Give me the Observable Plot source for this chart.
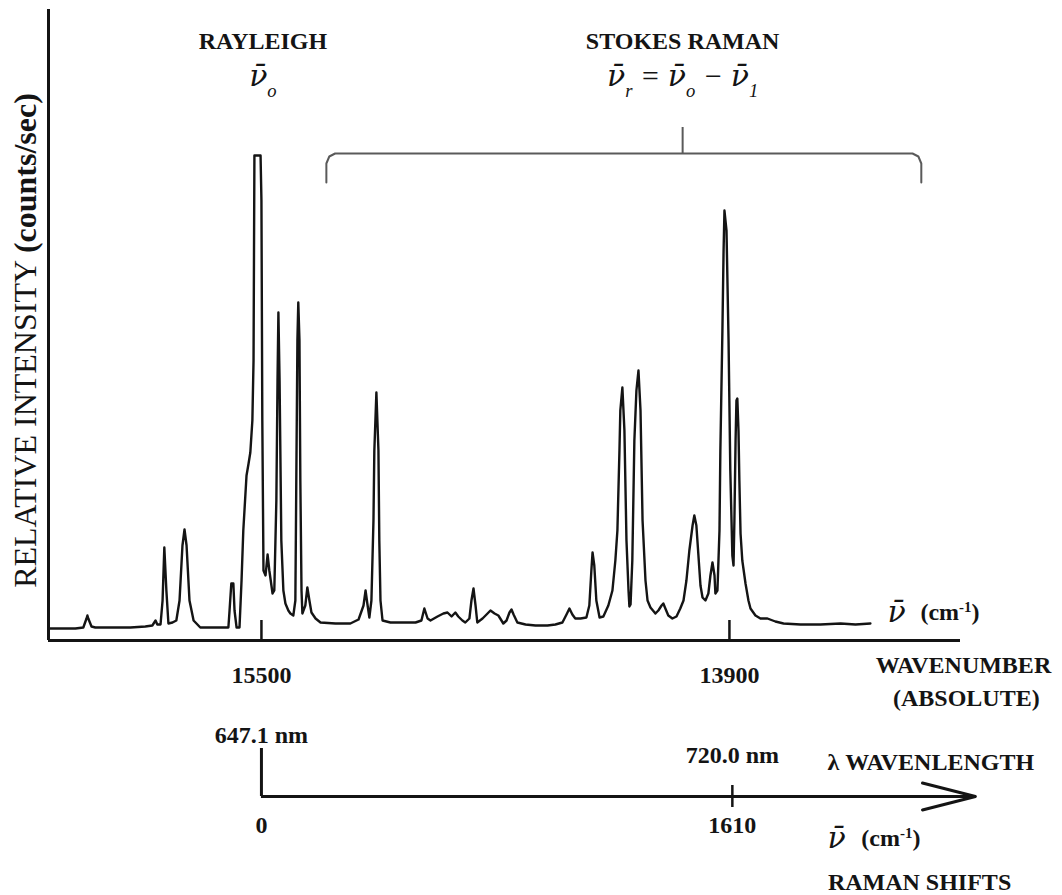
<!DOCTYPE html>
<html>
<head>
<meta charset="utf-8">
<script src="https://cdn.jsdelivr.net/npm/d3@7"></script>
<script src="https://cdn.jsdelivr.net/npm/@observablehq/plot@0.6"></script>
<style>
  html, body { margin: 0; padding: 0; background: #fff; overflow: hidden; }
  #chart svg { display: block; }
</style>
</head>
<body>
<div id="chart"></div>
<script>
// ---- Spectrum: absolute wavenumber (cm-1) and relative intensity (counts/sec)
const wavenumber = [
  16228,16187,16136,16109,16098,16095,16092,16081,16068,16016,
  15948,15897,15873,15862,15856,15845,15838,15832,15825,15818,
  15804,15791,15780,15770,15763,15756,15746,15732,15709,15657,
  15613,15609,15603,15596,15592,15585,15575,15568,15562,15551,
  15544,15538,15531,15527,15524,15517,15510,15503,15500,15497,
  15493,15486,15479,15473,15462,15456,15449,15445,15442,15438,
  15432,15425,15418,15408,15401,15391,15384,15380,15377,15374,
  15370,15367,15363,15360,15350,15343,15336,15329,15315,15298,
  15247,15196,15168,15151,15144,15138,15131,15124,15117,15114,
  15107,15100,15097,15093,15086,15059,15025,14973,14953,14943,
  14932,14922,14898,14878,14864,14850,14837,14827,14813,14803,
  14789,14782,14775,14768,14762,14744,14727,14717,14703,14690,
  14673,14662,14652,14645,14638,14625,14597,14563,14522,14495,
  14471,14457,14447,14437,14427,14409,14389,14379,14372,14368,
  14362,14355,14344,14331,14314,14300,14290,14283,14276,14273,
  14266,14259,14252,14245,14242,14238,14232,14225,14218,14211,
  14204,14197,14187,14180,14170,14153,14143,14132,14126,14119,
  14109,14095,14081,14068,14057,14047,14037,14026,14020,14013,
  14006,13999,13992,13982,13972,13965,13958,13951,13948,13941,
  13934,13931,13924,13920,13917,13910,13903,13897,13890,13886,
  13883,13879,13876,13873,13869,13866,13862,13856,13845,13835,
  13828,13811,13794,13770,13743,13715,13657,13589,13520,13469,13418
];
const intensity = [
  120,120,120,130,220,250,220,140,130,130,
  130,140,150,200,160,160,400,930,500,170,
  180,200,400,950,1110,950,400,200,130,130,
  130,300,570,570,300,130,130,600,1100,1650,
  1770,1880,2200,2800,4850,4850,4850,4850,4400,2200,
  700,650,860,700,470,500,1400,2600,3280,2600,
  1000,500,370,300,270,250,400,1900,3000,3380,
  3000,1600,500,270,350,530,400,280,220,180,
  170,170,210,350,500,370,230,400,1200,1900,
  2480,1900,1000,400,200,180,180,180,200,320,
  220,200,240,270,280,240,280,240,200,180,
  220,400,520,350,180,220,270,300,270,250,
  170,200,280,310,260,180,160,150,150,160,
  180,260,320,260,220,220,230,350,700,880,
  750,400,230,240,350,500,800,1100,1900,2300,
  2530,2100,1000,500,340,360,800,2000,2500,2700,
  2300,1200,600,400,330,270,300,350,370,320,
  250,220,240,320,400,600,900,1150,1250,1150,
  850,550,430,400,470,650,780,650,470,500,
  1100,1900,3100,3900,4300,4100,3000,1700,850,750,
  1200,2000,2400,2420,2100,1600,1070,800,570,400,
  320,250,220,220,190,170,160,160,170,160,170
];

// ---- Axes, ticks and labels
const xDomain = [16228, 13110];           // absolute wavenumber shown by the upper axis
const yDomain = [0, 6310];                // relative intensity range
const wavenumberTicks = [15500, 13900];
const laserWavenumber = 15500;            // Rayleigh line = zero Raman shift
const ramanShiftTicks = [0, 1610];
const wavelengthLabels = ["647.1 nm", "720.0 nm"];
const shiftAxisEnd = 2441;                // Raman shift where the lower arrow ends
const arrowWing = 2260;

// ---- Annotations  (_{} subscript, ^{} superscript, *{} bold, !{} barred symbol font)
const regionNames = ["RAYLEIGH", "STOKES RAMAN"];
const regionSymbols = ["!{ν̄}_{o}", "!{ν̄}_{r} = !{ν̄}_{o} − !{ν̄}_{1}"];
const regionCenters = [15495, 14060];
const stokesSpan = [15278, 13244];

const spectrum = wavenumber.map((w, i) => ({w, v: intensity[i]}));
const fromShift = (s) => laserWavenumber - s;

const [b0, b1] = stokesSpan;
const bTop = 4870, bFoot = 4580;
const bracket = [
  [b0, bFoot], [b0, bTop - 100], [b0 - 10, bTop - 30], [b0 - 30, bTop],
  [b1 + 30, bTop], [b1 + 10, bTop - 30], [b1, bTop - 100], [b1, bFoot]
];

const serif = "'Liberation Serif', 'Times New Roman', serif";
const ink = "#141414";

const chart = Plot.plot({
  width: 1062,
  height: 895,
  marginLeft: 48,
  marginRight: 102,
  marginTop: 9,
  marginBottom: 255,
  x: {domain: xDomain, axis: null},
  y: {domain: yDomain, axis: null},
  style: {fontFamily: serif, background: "#fff", color: ink},
  marks: [
    // upper frame
    Plot.ruleX([xDomain[0]], {y1: yDomain[0], y2: yDomain[1], stroke: ink, strokeWidth: 3}),
    Plot.ruleY([0], {x1: xDomain[0], x2: xDomain[1], stroke: ink, strokeWidth: 3}),
    Plot.ruleX(wavenumberTicks, {y1: 0, y2: 200, stroke: ink, strokeWidth: 2.5}),
    Plot.text(wavenumberTicks, {x: d => d, y: -350, text: d => String(d), fontSize: 24, fontWeight: "bold", fill: ink}),

    // spectrum
    Plot.line(spectrum, {x: "w", y: "v", stroke: ink, strokeWidth: 2.4, strokeLinejoin: "round"}),

    // bracket over Stokes region
    Plot.line(bracket, {x: d => d[0], y: d => d[1], stroke: "#5a5a5a", strokeWidth: 2, curve: "linear"}),
    Plot.ruleX([regionCenters[1]], {y1: bTop, y2: 5130, stroke: "#5a5a5a", strokeWidth: 2}),

    // region titles and formulas
    Plot.text(regionNames, {x: (d, i) => regionCenters[i], y: 5990, text: d => d, fontSize: 24, fontWeight: "bold", fill: ink}),
    Plot.text(regionSymbols, {x: (d, i) => regionCenters[i], y: 5640, text: d => d, fontSize: 30, fontStyle: "italic", fill: ink}),

    // y label
    Plot.text(["RELATIVE INTENSITY *{(counts/sec)}"], {x: 16307, y: 3000, text: d => d, rotate: -90, fontSize: 32, fill: ink}),

    // upper axis unit label
    Plot.text(["!{ν̄}"], {x: 13360, y: 280, text: d => d, textAnchor: "start", fontSize: 30, fontStyle: "italic", fill: ink}),
    Plot.text(["(cm^{-1})"], {x: 13247, y: 280, text: d => d, textAnchor: "start", fontSize: 24, fontWeight: "bold", fill: ink}),
    Plot.text(["WAVENUMBER"], {x: 13100, y: -250, text: d => d, fontSize: 24, fontWeight: "bold", fill: ink}),
    Plot.text(["(ABSOLUTE)"], {x: 13090, y: -580, text: d => d, fontSize: 24, fontWeight: "bold", fill: ink}),

    // lower Raman-shift axis
    Plot.ruleY([-1560], {x1: fromShift(0), x2: fromShift(shiftAxisEnd), stroke: ink, strokeWidth: 3}),
    Plot.line([[arrowWing, -1425], [shiftAxisEnd, -1560], [arrowWing, -1695]],
      {x: d => fromShift(d[0]), y: d => d[1], stroke: ink, strokeWidth: 3}),
    Plot.ruleX([ramanShiftTicks[0]], {x: fromShift, y1: -1080, y2: -1560, stroke: ink, strokeWidth: 3}),
    Plot.ruleX([ramanShiftTicks[1]], {x: fromShift, y1: -1450, y2: -1670, stroke: ink, strokeWidth: 2.5}),
    Plot.text(ramanShiftTicks, {x: fromShift, y: -1850, text: d => String(d), fontSize: 24, fontWeight: "bold", fill: ink}),
    Plot.text([wavelengthLabels[0]], {x: fromShift(ramanShiftTicks[0]), y: -950, text: d => d, fontSize: 24, fontWeight: "bold", fill: ink}),
    Plot.text([wavelengthLabels[1]], {x: fromShift(ramanShiftTicks[1]), y: -1150, text: d => d, fontSize: 24, fontWeight: "bold", fill: ink}),
    Plot.text(["λ WAVENLENGTH"], {x: 13565, y: -1220, text: d => d, textAnchor: "start", fontSize: 24, fontWeight: "bold", fill: ink}),
    Plot.text(["!{ν̄}"], {x: 13565, y: -1980, text: d => d, textAnchor: "start", fontSize: 30, fontStyle: "italic", fill: ink}),
    Plot.text(["(cm^{-1})"], {x: 13449, y: -1980, text: d => d, textAnchor: "start", fontSize: 24, fontWeight: "bold", fill: ink}),
    Plot.text(["RAMAN SHIFTS"], {x: 13250, y: -2420, text: d => d, fontSize: 24, fontWeight: "bold", fill: ink})
  ]
});

// sub/superscripts, bold runs and barred symbols
function richText(svg) {
  d3.select(svg).selectAll("text").each(function () {
    const s = this.textContent;
    if (!/[_^!*]\{/.test(s)) return;
    const sel = d3.select(this);
    this.textContent = "";
    const re = /([_^!*])\{([^}]*)\}/g;
    let last = 0, m;
    while ((m = re.exec(s))) {
      if (m.index > last) sel.append("tspan").text(s.slice(last, m.index));
      const t = sel.append("tspan").text(m[2]);
      if (m[1] === "!") t.attr("font-family", "'DejaVu Serif', serif").attr("font-size", "100%");
      if (m[1] === "_") t.attr("baseline-shift", "sub").attr("font-size", "62%");
      if (m[1] === "^") t.attr("baseline-shift", "super").attr("font-size", "62%");
      if (m[1] === "*") t.attr("font-weight", "bold");
      last = re.lastIndex;
    }
    if (last < s.length) sel.append("tspan").text(s.slice(last));
  });
}
richText(chart);
document.getElementById("chart").append(chart);
</script>
</body>
</html>
